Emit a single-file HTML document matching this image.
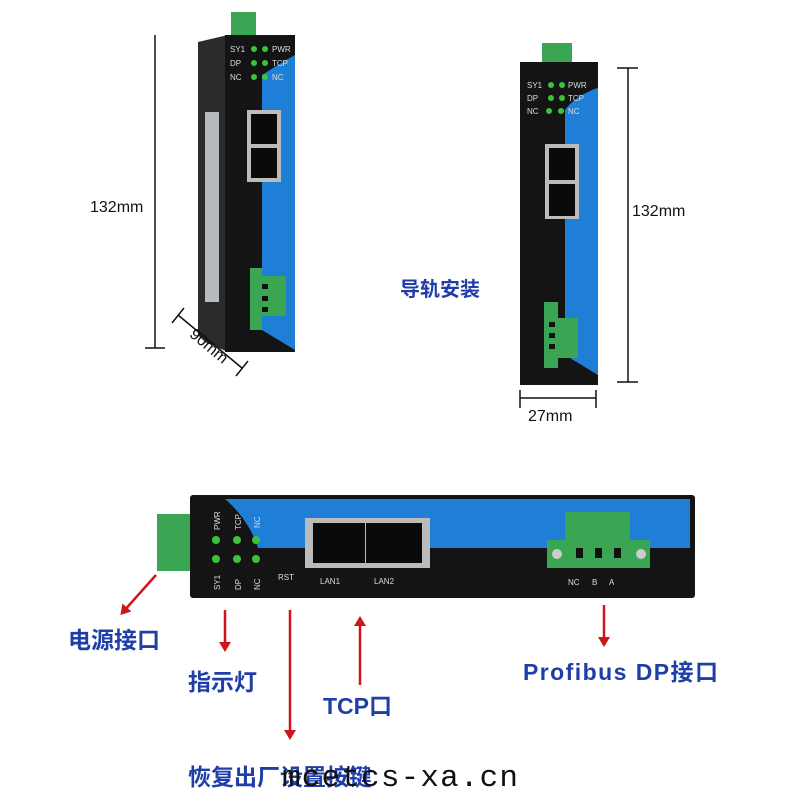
<!DOCTYPE html>
<html><head><meta charset="utf-8"><style>
html,body{margin:0;padding:0;background:#fff;width:800px;height:800px;overflow:hidden}
svg{display:block}
.cn{font-family:"Liberation Sans","Noto Sans CJK SC",sans-serif;font-weight:bold;fill:#1f3ea8}
.sm{font-family:"Liberation Sans",sans-serif;fill:#ddd;font-size:8px}
.dim{font-family:"Liberation Sans",sans-serif;fill:#111;font-size:16px}
</style></head><body>
<svg width="800" height="800" viewBox="0 0 800 800" xmlns="http://www.w3.org/2000/svg">
<defs>
<marker id="ar" markerWidth="10" markerHeight="12" refX="6" refY="6" orient="auto" markerUnits="userSpaceOnUse"><path d="M0,0 L10,6 L0,12 Z" fill="#d0141c"/></marker>
</defs>

<line x1="155" y1="35" x2="155" y2="348" stroke="#111" stroke-width="1.5"/>
<line x1="145" y1="348" x2="165" y2="348" stroke="#111" stroke-width="1.5"/>
<text x="90" y="212" class="dim">132mm</text>
<rect x="231" y="12" width="25" height="26" fill="#3aa552"/>
<polygon points="198,42 228,35 228,352 205,342 198,335" fill="#2b2b2b"/>
<rect x="205" y="112" width="14" height="190" fill="#b8bbbd"/>
<rect x="225" y="35" width="70" height="317" fill="#141414"/>
<path d="M295,55 C282,62 270,70 262,75 L262,330 L295,350 Z" fill="#1f7fd6"/>
<text x="230" y="52" class="sm">SY1</text><text x="272" y="52" class="sm">PWR</text>
<text x="230" y="66" class="sm">DP</text><text x="272" y="66" class="sm">TCP</text>
<text x="230" y="80" class="sm">NC</text><text x="272" y="80" class="sm" fill="#cde">NC</text>
<g fill="#3cc23c"><circle cx="254" cy="49" r="3"/><circle cx="265" cy="49" r="3"/><circle cx="254" cy="63" r="3"/><circle cx="265" cy="63" r="3"/><circle cx="254" cy="77" r="3"/><circle cx="265" cy="77" r="3"/></g>
<rect x="247" y="110" width="34" height="72" fill="#bbb"/>
<rect x="251" y="114" width="26" height="30" fill="#0a0a0a"/><rect x="251" y="148" width="26" height="30" fill="#0a0a0a"/>
<rect x="250" y="268" width="12" height="62" fill="#3aa552"/><rect x="258" y="276" width="28" height="40" fill="#3aa552"/>
<g fill="#111"><rect x="262" y="284" width="6" height="5"/><rect x="262" y="296" width="6" height="5"/><rect x="262" y="307" width="6" height="5"/></g>
<line x1="178" y1="315" x2="242" y2="368" stroke="#111" stroke-width="1.5"/>
<line x1="172" y1="323" x2="184" y2="308" stroke="#111" stroke-width="1.5"/>
<line x1="236" y1="376" x2="248" y2="361" stroke="#111" stroke-width="1.5"/>
<text x="178" y="345" class="dim" transform="rotate(40 196 355)">90mm</text>

<rect x="542" y="43" width="30" height="22" fill="#3aa552"/>
<rect x="520" y="62" width="78" height="323" fill="#141414"/>
<path d="M598,88 C585,92 572,100 565,110 L565,355 L598,375 Z" fill="#1f7fd6"/>
<text x="527" y="88" class="sm">SY1</text><text x="568" y="88" class="sm">PWR</text>
<text x="527" y="101" class="sm">DP</text><text x="568" y="101" class="sm">TCP</text>
<text x="527" y="114" class="sm">NC</text><text x="568" y="114" class="sm">NC</text>
<g fill="#3cc23c"><circle cx="551" cy="85" r="3"/><circle cx="562" cy="85" r="3"/><circle cx="551" cy="98" r="3"/><circle cx="562" cy="98" r="3"/><circle cx="549" cy="111" r="3"/><circle cx="561" cy="111" r="3"/></g>
<rect x="545" y="144" width="34" height="75" fill="#bbb"/>
<rect x="549" y="148" width="26" height="32" fill="#0a0a0a"/><rect x="549" y="184" width="26" height="32" fill="#0a0a0a"/>
<rect x="544" y="302" width="14" height="66" fill="#3aa552"/><rect x="548" y="318" width="30" height="40" fill="#3aa552"/>
<g fill="#111"><rect x="549" y="322" width="6" height="5"/><rect x="549" y="333" width="6" height="5"/><rect x="549" y="344" width="6" height="5"/></g>
<line x1="628" y1="68" x2="628" y2="382" stroke="#111" stroke-width="1.5"/>
<line x1="617" y1="68" x2="638" y2="68" stroke="#111" stroke-width="1.5"/>
<line x1="617" y1="382" x2="638" y2="382" stroke="#111" stroke-width="1.5"/>
<text x="632" y="216" class="dim">132mm</text>
<line x1="520" y1="398" x2="596" y2="398" stroke="#111" stroke-width="1.5"/>
<line x1="520" y1="390" x2="520" y2="408" stroke="#111" stroke-width="1.5"/>
<line x1="596" y1="390" x2="596" y2="408" stroke="#111" stroke-width="1.5"/>
<text x="528" y="421" class="dim">27mm</text>
<text x="400" y="296" class="cn" font-size="20">导轨安装</text>

<rect x="157" y="514" width="35" height="57" fill="#3aa552"/>
<rect x="190" y="495" width="505" height="103" rx="3" fill="#141414"/>
<path d="M225,499 L690,499 L690,548 L258,548 C252,528 238,510 225,499 Z" fill="#1f7fd6"/>
<g fill="#3cc23c"><circle cx="216" cy="540" r="4"/><circle cx="237" cy="540" r="4"/><circle cx="256" cy="540" r="4"/><circle cx="216" cy="559" r="4"/><circle cx="237" cy="559" r="4"/><circle cx="256" cy="559" r="4"/></g>
<g class="sm" font-size="9" fill="#ddd">
<text transform="translate(220 530) rotate(-90)">PWR</text>
<text transform="translate(241 530) rotate(-90)">TCP</text>
<text transform="translate(260 528) rotate(-90)" fill="#cde">NC</text>
<text transform="translate(220 590) rotate(-90)">SY1</text>
<text transform="translate(241 590) rotate(-90)">DP</text>
<text transform="translate(260 590) rotate(-90)">NC</text>
<text x="278" y="580">RST</text>
<text x="320" y="584">LAN1</text><text x="374" y="584">LAN2</text>
<text x="568" y="585">NC</text><text x="592" y="585">B</text><text x="609" y="585">A</text>
</g>
<rect x="305" y="518" width="125" height="50" fill="#bbb"/>
<rect x="313" y="523" width="52" height="40" fill="#0a0a0a"/><rect x="366" y="523" width="56" height="40" fill="#0a0a0a"/>
<rect x="547" y="540" width="20" height="28" fill="#3aa552"/>
<rect x="565" y="512" width="65" height="56" fill="#3aa552"/>
<rect x="628" y="540" width="22" height="28" fill="#3aa552"/>
<circle cx="557" cy="554" r="5" fill="#ccc"/><circle cx="641" cy="554" r="5" fill="#ccc"/>
<g fill="#111"><rect x="576" y="548" width="7" height="10"/><rect x="595" y="548" width="7" height="10"/><rect x="614" y="548" width="7" height="10"/></g>

<g stroke="#d0141c" stroke-width="2.5" fill="none">
<line x1="156" y1="575" x2="123" y2="612" marker-end="url(#ar)"/>
<line x1="225" y1="610" x2="225" y2="648" marker-end="url(#ar)"/>
<line x1="290" y1="610" x2="290" y2="736" marker-end="url(#ar)"/>
<line x1="360" y1="685" x2="360" y2="620" marker-end="url(#ar)"/>
<line x1="604" y1="605" x2="604" y2="643" marker-end="url(#ar)"/>
</g>
<text x="68" y="648" class="cn" font-size="23">电源接口</text>
<text x="188" y="690" class="cn" font-size="23">指示灯</text>
<text x="323" y="714" class="cn" font-size="23">TCP口</text>
<text x="523" y="680" class="cn" font-size="23" textLength="195">Profibus DP接口</text>
<text x="188" y="785" class="cn" font-size="23">恢复出厂设置按键</text>
<text x="282" y="786" font-family="Liberation Mono, monospace" font-size="31" fill="#111" textLength="236">mcetcs-xa.cn</text>
</svg>
</body></html>
